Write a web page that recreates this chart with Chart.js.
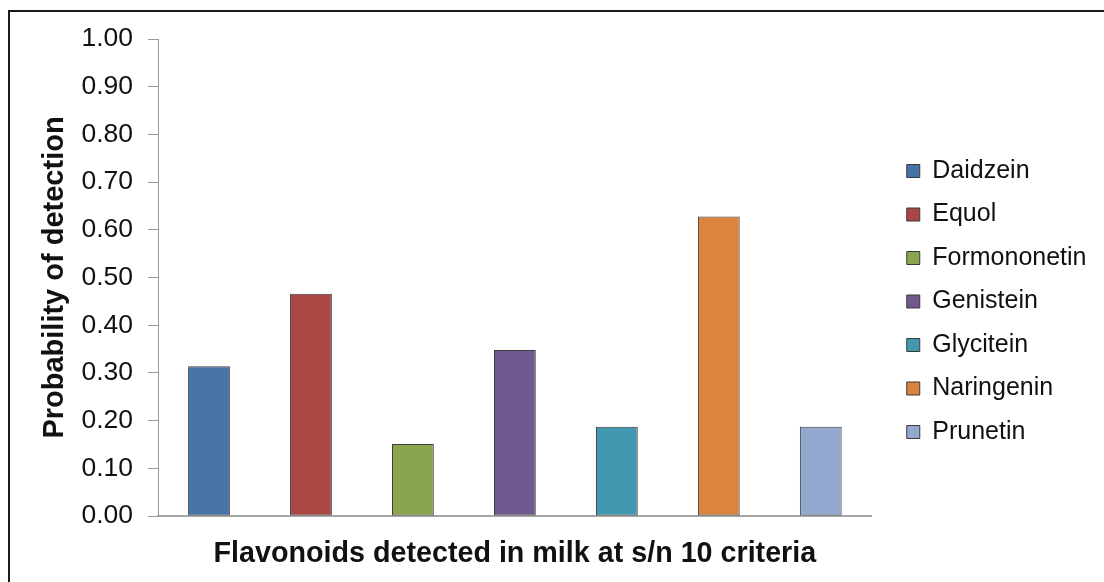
<!DOCTYPE html>
<html>
<head>
<meta charset="utf-8">
<script src="https://cdn.jsdelivr.net/npm/chart.js@4/dist/chart.umd.min.js"></script>
<style>
  html, body { margin: 0; padding: 0; background: #fff; overflow: hidden; }
  #wrap { position: relative; width: 1104px; height: 582px; }
  #frame { position: absolute; left: 8px; top: 10px; width: 1200px; height: 700px; border: 2px solid #1a1a1a; box-sizing: border-box; }
  canvas { position: absolute; left: 0; top: 0; }
</style>
</head>
<body>
<div id="wrap">
  <div id="frame"></div>
  <canvas id="c" width="1104" height="582"></canvas>
</div>
<script>
const categories = [''];
const seriesNames = ['Daidzein', 'Equol', 'Formononetin', 'Genistein', 'Glycitein', 'Naringenin', 'Prunetin'];
const seriesValues = [0.314, 0.466, 0.151, 0.348, 0.187, 0.628, 0.187];
const seriesColors = ['#4572A7', '#AA4643', '#89A54E', '#71588F', '#4198AF', '#DB843D', '#93A9CF'];
const yTicks = [0.00, 0.10, 0.20, 0.30, 0.40, 0.50, 0.60, 0.70, 0.80, 0.90, 1.00];
const xTitle = 'Flavonoids detected in milk at s/n 10 criteria';
const yTitle = 'Probability of detection';

const FONT = "'Liberation Sans', Arial, sans-serif";

const datasets = seriesNames.map((name, i) => ({
  label: name,
  data: [seriesValues[i]],
  backgroundColor: seriesColors[i],
  borderColor: '#3a3a3a',
  borderWidth: 1,
  borderSkipped: false,
  categoryPercentage: 1.0,
  barPercentage: 0.41
}));

// push the legend away from the plot area (gap between plot and legend)
const legendShift = {
  id: 'legendShift',
  afterLayout(chart) {
    const lg = chart.legend;
    if (lg) { lg.left += 16.5; lg.right += 16.5; }
  }
};

new Chart(document.getElementById('c'), {
  type: 'bar',
  data: { labels: categories, datasets },
  plugins: [legendShift],
  options: {
    responsive: false,
    animation: false,
    layout: { padding: { top: 39, left: 20, right: 24, bottom: 0 } },
    plugins: {
      tooltip: { enabled: false },
      legend: {
        position: 'right',
        fullSize: false,
        title: { display: true, text: '', font: { size: 1 }, padding: { top: 46.8, bottom: 0 } },
        labels: {
          color: '#111',
          font: { family: FONT, size: 25 },
          boxWidth: 13,
          boxHeight: 13,
          padding: 18.5
        }
      }
    },
    scales: {
      x: {
        offset: true,
        grid: { display: false },
        border: { display: true, color: '#a6a6a6', width: 2 },
        ticks: { display: false },
        title: {
          display: true, text: xTitle, color: '#111',
          font: { family: FONT, size: 28.7, weight: 'bold' },
          padding: { top: 0, bottom: 11 }
        },
        afterFit: s => { s.height = 66; }
      },
      y: {
        min: 0, max: 1,
        afterBuildTicks: s => { s.ticks = yTicks.map(v => ({ value: v })); },
        grid: { drawOnChartArea: false, drawTicks: true, tickLength: 10, color: '#999999' },
        border: { display: true, color: '#999999', width: 1 },
        ticks: {
          color: '#111',
          font: { family: FONT, size: 26.5 },
          padding: 15,
          callback: v => Number(v).toFixed(2)
        },
        title: {
          display: true, text: yTitle, color: '#111',
          font: { family: FONT, size: 29, weight: 'bold' },
          padding: { top: 18, bottom: 0 }
        },
        afterFit: s => { s.width = 138; }
      }
    }
  }
});
</script>
</body>
</html>
